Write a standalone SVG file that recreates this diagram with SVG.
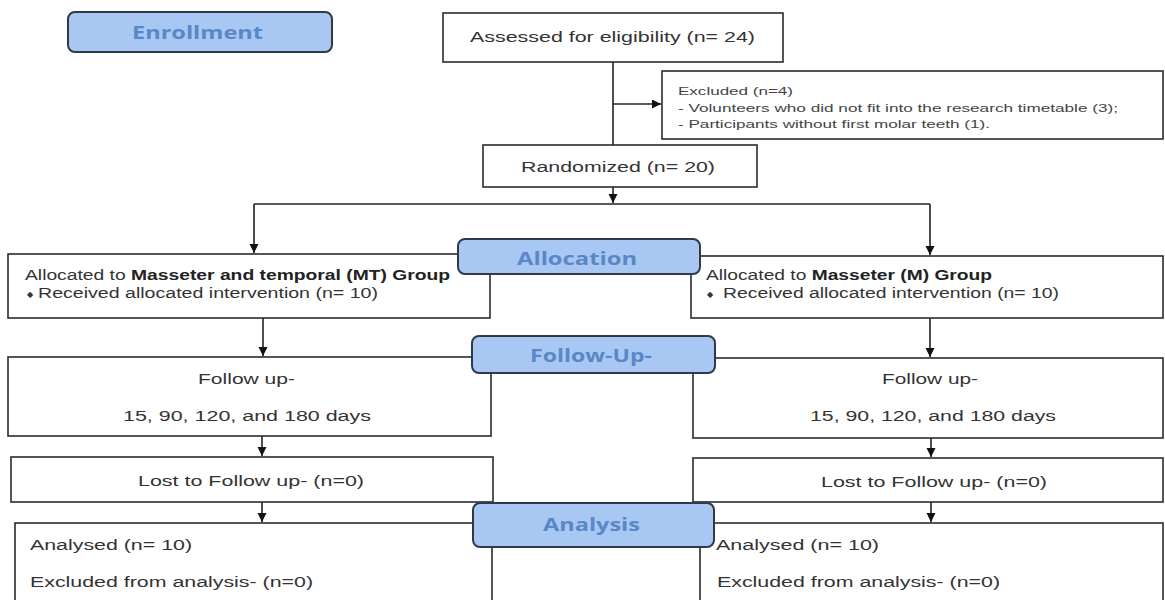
<svg xmlns="http://www.w3.org/2000/svg" width="1165" height="600" viewBox="0 0 1165 600">
<style>
.box{fill:#fff;stroke:#2b2b2b;stroke-width:1.6}
.lbl{fill:#a8c8f3;stroke:#2f3a48;stroke-width:2}
.lt{font-family:"Open Sans","Noto Sans",sans-serif;font-weight:bold;font-size:18px;fill:#5a87c6}
.t{font-family:"Liberation Sans",Arial,sans-serif;font-size:14px;fill:#333}
.ts{font-family:"Liberation Sans",Arial,sans-serif;font-size:11px;fill:#444}
.b{font-weight:bold;fill:#222}
.con{fill:none;stroke:#222;stroke-width:1.6}
.bul{font-family:"DejaVu Sans",sans-serif;font-size:8px;fill:#333}
</style>
<defs>
<marker id="ah" markerUnits="userSpaceOnUse" markerWidth="10" markerHeight="10" refX="9" refY="4.5" orient="auto">
<path d="M0,0 L9,4.5 L0,9 z" fill="#111"/>
</marker>
</defs>
<rect width="1165" height="600" fill="#fff"/>

<g id="connectors">
<path class="con" d="M613,62 V145"/>
<path class="con" d="M613,104 H661" marker-end="url(#ah)"/>
<path class="con" d="M613,187 V203" marker-end="url(#ah)"/>
<path class="con" d="M254,204 H930"/>
<path class="con" d="M254,204 V253" marker-end="url(#ah)"/>
<path class="con" d="M930,204 V255" marker-end="url(#ah)"/>
<path class="con" d="M263,318 V356" marker-end="url(#ah)"/>
<path class="con" d="M930,318 V357" marker-end="url(#ah)"/>
<path class="con" d="M262,436 V456" marker-end="url(#ah)"/>
<path class="con" d="M931,438 V457" marker-end="url(#ah)"/>
<path class="con" d="M262,502 V522" marker-end="url(#ah)"/>
<path class="con" d="M931,502 V522" marker-end="url(#ah)"/>
</g>

<g id="assessed">
<rect class="box" x="443" y="13" width="340" height="49"/>
<text class="t" x="470" y="42" font-size="15" textLength="285" lengthAdjust="spacingAndGlyphs">Assessed for eligibility (n= 24)</text>
</g>

<g id="excluded">
<rect class="box" x="662" y="71" width="501" height="68"/>
<text class="ts" x="678" y="95" textLength="115" lengthAdjust="spacingAndGlyphs">Excluded (n=4)</text>
<text class="ts" x="678" y="112" textLength="440" lengthAdjust="spacingAndGlyphs">- Volunteers who did not fit into the research timetable (3);</text>
<text class="ts" x="678" y="128" textLength="312" lengthAdjust="spacingAndGlyphs">- Participants without first molar teeth (1).</text>
</g>

<g id="randomized">
<rect class="box" x="483" y="145" width="274" height="42"/>
<text class="t" x="521" y="172" font-size="15" textLength="194" lengthAdjust="spacingAndGlyphs">Randomized (n= 20)</text>
</g>

<g id="mt-group">
<rect class="box" x="8" y="254" width="482" height="64"/>
<text class="t" x="25" y="280" textLength="425" lengthAdjust="spacingAndGlyphs">Allocated to <tspan class="b">Masseter and temporal (MT) Group</tspan></text>
<text class="bul" x="27" y="297">◆</text>
<text class="t" x="38" y="298" textLength="340" lengthAdjust="spacingAndGlyphs">Received allocated intervention (n= 10)</text>
</g>

<g id="m-group">
<rect class="box" x="691" y="256" width="472" height="62"/>
<text class="t" x="706" y="280" textLength="286" lengthAdjust="spacingAndGlyphs">Allocated to <tspan class="b">Masseter (M) Group</tspan></text>
<text class="bul" x="707" y="297">◆</text>
<text class="t" x="723" y="298" textLength="336" lengthAdjust="spacingAndGlyphs">Received allocated intervention (n= 10)</text>
</g>

<g id="followup-left">
<rect class="box" x="8" y="357" width="483" height="79"/>
<text class="t" x="198" y="384" textLength="97" lengthAdjust="spacingAndGlyphs">Follow up-</text>
<text class="t" x="123" y="421" textLength="248" lengthAdjust="spacingAndGlyphs">15, 90, 120, and 180 days</text>
</g>

<g id="followup-right">
<rect class="box" x="693" y="358" width="470" height="80"/>
<text class="t" x="882" y="384" textLength="96" lengthAdjust="spacingAndGlyphs">Follow up-</text>
<text class="t" x="810" y="421" textLength="246" lengthAdjust="spacingAndGlyphs">15, 90, 120, and 180 days</text>
</g>

<g id="lost-left">
<rect class="box" x="11" y="457" width="482" height="45"/>
<text class="t" x="138" y="486" textLength="226" lengthAdjust="spacingAndGlyphs">Lost to Follow up- (n=0)</text>
</g>

<g id="lost-right">
<rect class="box" x="693" y="458" width="470" height="44"/>
<text class="t" x="821" y="487" textLength="226" lengthAdjust="spacingAndGlyphs">Lost to Follow up- (n=0)</text>
</g>

<g id="analysed-left">
<rect class="box" x="15" y="523" width="477" height="90"/>
<text class="t" x="30" y="550" textLength="162" lengthAdjust="spacingAndGlyphs">Analysed (n= 10)</text>
<text class="t" x="30" y="587" textLength="283" lengthAdjust="spacingAndGlyphs">Excluded from analysis- (n=0)</text>
</g>

<g id="analysed-right">
<rect class="box" x="700" y="523" width="463" height="90"/>
<text class="t" x="716" y="550" textLength="163" lengthAdjust="spacingAndGlyphs">Analysed (n= 10)</text>
<text class="t" x="717" y="587" textLength="283" lengthAdjust="spacingAndGlyphs">Excluded from analysis- (n=0)</text>
</g>

<g id="enrollment">
<rect class="lbl" x="68" y="12" width="264" height="40" rx="7"/>
<text class="lt" x="132" y="39" textLength="131" lengthAdjust="spacingAndGlyphs">Enrollment</text>
</g>

<g id="allocation">
<rect class="lbl" x="458" y="239" width="242" height="35" rx="7"/>
<text class="lt" x="517" y="265" textLength="120" lengthAdjust="spacingAndGlyphs">Allocation</text>
</g>

<g id="follow-up-label">
<rect class="lbl" x="472" y="336" width="243" height="37" rx="7"/>
<text class="lt" x="530" y="362" textLength="122" lengthAdjust="spacingAndGlyphs">Follow-Up-</text>
</g>

<g id="analysis">
<rect class="lbl" x="473" y="503" width="241" height="44" rx="7"/>
<text class="lt" x="543" y="531" textLength="97" lengthAdjust="spacingAndGlyphs">Analysis</text>
</g>
</svg>
